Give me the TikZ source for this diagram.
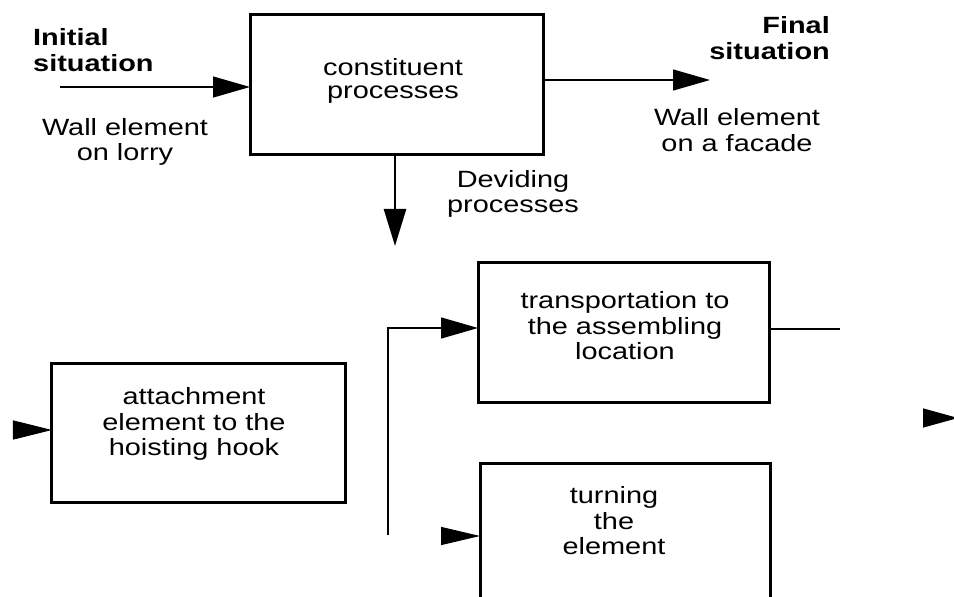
\documentclass[tikz,border=0pt]{standalone}
\usepackage{fontspec}
\setmainfont{Liberation Sans}[FakeStretch=1.23]
\usetikzlibrary{arrows.meta,calc}
\tikzset{
  box/.style={draw, line width=3bp, inner sep=0pt, outer sep=0pt},
  txt/.style={inner sep=0pt, align=center, font=\fontsize{23.5bp}{25.5bp}\selectfont},
  btxt/.style={txt, font=\fontsize{23.5bp}{26.5bp}\selectfont\bfseries},
  conn/.style={line width=1.3bp, -{Triangle[length=37bp,width=21bp]}},
  plain/.style={line width=1.3bp},
  fat/.style={line width=2.6bp, -{Triangle[length=37bp,width=22bp]}}
}
\begin{document}
\begin{tikzpicture}[x=1bp, y=-1bp]
\useasboundingbox (0,0) rectangle (954,597);
\clip (0,0) rectangle (954,597);
\fill[white] (0,0) rectangle (954,597);

% boxes
\node[box, minimum width=293bp, minimum height=140bp] (cp) at (396.5,85) {};
\node[box, minimum width=291bp, minimum height=139bp] (tr) at (623.5,332.5) {};
\node[box, minimum width=293bp, minimum height=139bp] (at) at (198.5,432.5) {};
\node[box, minimum width=290bp, minimum height=140bp] (tu) at (625,533) {};

% box texts
\node[txt, font=\fontsize{23.5bp}{23.5bp}\selectfont] (cpt) at (393,81) {constituent\\processes};
\node[txt] (trt) at (625,326) {transportation to\\the assembling\\location};
\node[txt] (att) at (194,424) {attachment\\element to the\\hoisting hook};
\node[txt] (tut) at (614,521) {turning\\the\\element};

% free texts
\node[btxt, align=left, anchor=west] (init) at (33,50) {Initial\\situation};
\node[txt] (lorry) at (125,142) {Wall element\\on lorry};
\node[btxt, align=right, anchor=east] (fin) at (830,38) {Final\\situation};
\node[txt] (facade) at (737,130) {Wall element\\on a facade};
\node[txt] (dev) at (513,194) {Deviding\\processes};

% connectors
\coordinate (in0) at (60,87);
\draw[conn] (in0) -- (cp.west |- in0);

\coordinate (fs) at (710,80);
\draw[conn] (cp.east |- fs) -- (fs);

\coordinate (dv) at (395,246);
\draw[fat] (cp.south -| dv) -- (dv);

\coordinate (lp) at (388,535);
\coordinate (ti) at (388,328);
\draw[conn] (lp) -- (ti) -- (tr.west |- ti);

\coordinate (tuin) at (441,536);
\draw[conn, -{Triangle[length=39bp,width=18bp]}] (tuin) -- (tu.west |- tuin);

\coordinate (to) at (840,329);
\draw[plain] (tr.east |- to) -- (to);

\coordinate (ra) at (923,418);
\coordinate (rb) at (958,418);
\draw[conn, -{Triangle[length=35bp,width=19bp]}] (ra) -- (rb);

\coordinate (aa) at (13,430);
\draw[conn, -{Triangle[length=39bp,width=19bp]}] (aa) -- (at.west |- aa);
\end{tikzpicture}
\end{document}
